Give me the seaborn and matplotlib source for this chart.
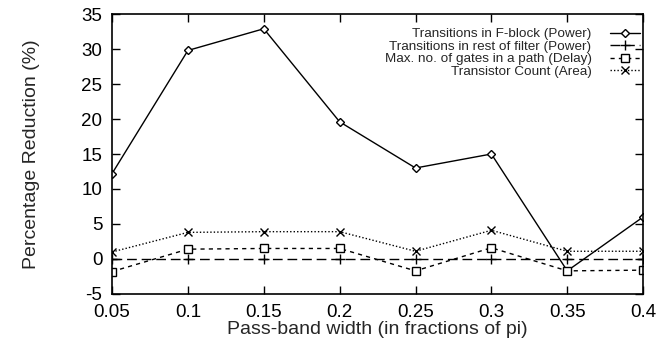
import matplotlib
matplotlib.use("Agg")
import matplotlib.pyplot as plt
import seaborn as sns
import pandas as pd

# Pass-band widths (fractions of pi)
bandwidth = [0.05, 0.1, 0.15, 0.2, 0.25, 0.3, 0.35, 0.4]
xtick_labels = ["0.05", "0.1", "0.15", "0.2", "0.25", "0.3", "0.35", "0.4"]

# Percentage reductions per metric
fblock_power = [12.2, 29.8, 32.9, 19.6, 13.0, 15.0, -1.7, 6.0]
rest_power = [0.0, 0.0, 0.0, 0.0, 0.0, 0.0, 0.0, 0.0]
gates_delay = [-1.8, 1.4, 1.5, 1.5, -1.7, 1.6, -1.7, -1.6]
transistor_area = [1.0, 3.8, 3.9, 3.9, 1.1, 4.1, 1.1, 1.1]

labels = [
    "Transitions in F-block (Power)",
    "Transitions in rest of filter (Power)",
    "Max. no. of gates in a path (Delay)",
    "Transistor Count (Area)",
]
yticks = [-5, 0, 5, 10, 15, 20, 25, 30, 35]

sns.set_style("ticks")
plt.rcParams["font.family"] = ["Liberation Sans", "DejaVu Sans"]

fig, ax = plt.subplots(figsize=(6.63, 3.43), dpi=100)
fig.subplots_adjust(left=0.169, right=0.970, top=0.959, bottom=0.143)

styles = [
    dict(marker="D", markersize=4.5, linestyle="-", mfc="white"),
    dict(marker="+", markersize=7, linestyle=(0, (7, 3.5))),
    dict(marker="s", markersize=6, linestyle=(0, (3, 3)), mfc="white"),
    dict(marker="x", markersize=6, linestyle=(0, (1, 1.5))),
]
series = [fblock_power, rest_power, gates_delay, transistor_area]

for vals, lab, st in zip(series, labels, styles):
    df = pd.DataFrame({"x": bandwidth, "y": vals})
    sns.lineplot(data=df, x="x", y="y", ax=ax, color="black", linewidth=1.0,
                 marker=st["marker"], markersize=st["markersize"],
                 linestyle=st["linestyle"], mfc=st.get("mfc", "black"),
                 mec="black", mew=1.0, label=lab)

ax.set_xlim(0.05, 0.4)
ax.set_ylim(-5, 35)
ax.set_xticks(bandwidth)
ax.set_xticklabels(xtick_labels)
ax.set_yticks(yticks)
ax.set_yticklabels([str(v) for v in yticks])
ax.tick_params(direction="in", length=6, width=1, labelsize=13.5,
               top=True, right=True, pad=7, colors="black")
for sp in ax.spines.values():
    sp.set_visible(True)
    sp.set_linewidth(1.2)
    sp.set_color("black")

ax.set_xlabel("Pass-band width (in fractions of pi)", fontsize=14, labelpad=0)
ax.set_ylabel("Percentage Reduction (%)", fontsize=14, labelpad=30)

leg = ax.legend(loc="upper right", frameon=False, markerfirst=False,
                fontsize=9.7, handlelength=2.25, handletextpad=1.35,
                labelspacing=0.0, borderaxespad=0.0, borderpad=0.0,
                bbox_to_anchor=(1 - 3 / 531, 1 - 14 / 280))

fig.savefig("out.png", dpi=100)
